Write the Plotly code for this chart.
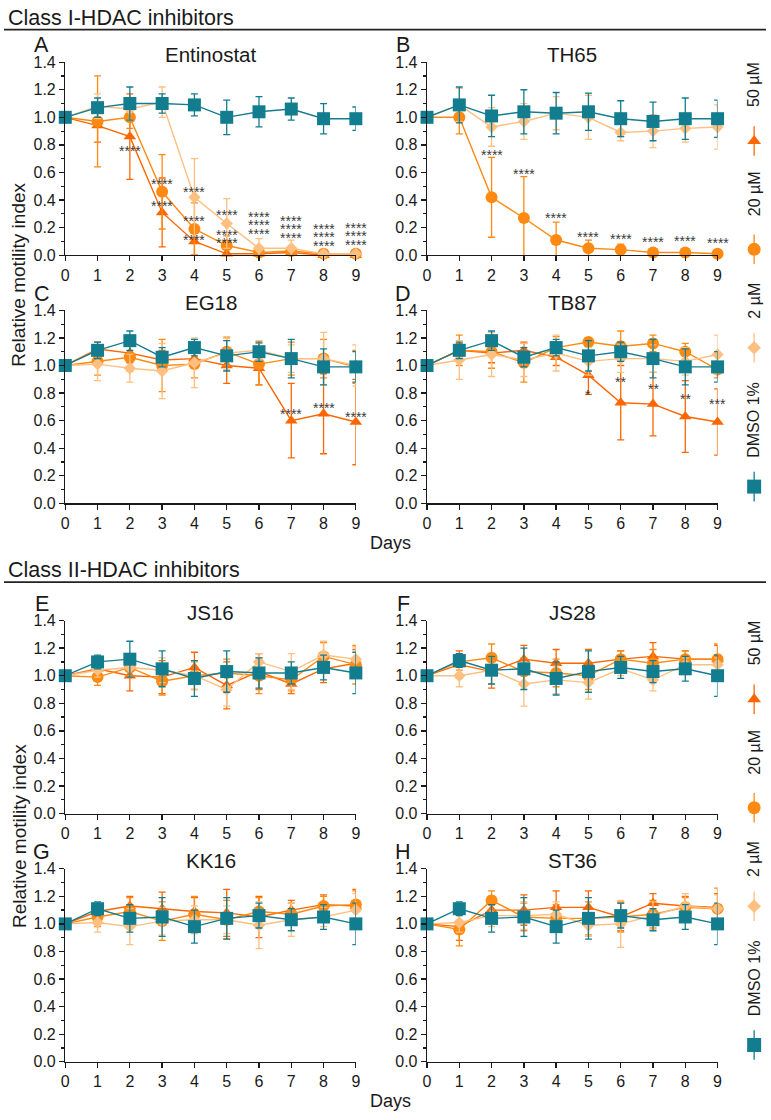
import plotly.graph_objects as go

# ---------------- data ----------------
DAYS = [0, 1, 2, 3, 4, 5, 6, 7, 8, 9]
Y_TICKS = [0.0, 0.2, 0.4, 0.6, 0.8, 1.0, 1.2, 1.4]
SERIES_NAMES = ["50 µM", "20 µM", "2 µM", "DMSO 1%"]
PANEL_TITLES = ["Entinostat", "TH65", "EG18", "TB87", "JS16", "JS28", "KK16", "ST36"]
PANEL_LETTERS = ["A", "B", "C", "D", "E", "F", "G", "H"]
SECTION_TITLES = ["Class I-HDAC inhibitors", "Class II-HDAC inhibitors"]

# A - Entinostat
A_dmso = [1.00, 1.07, 1.10, 1.10, 1.09, 1.00, 1.04, 1.06, 0.99, 0.99]
A_dmso_sd = [0, 0.07, 0.12, 0.07, 0.08, 0.125, 0.11, 0.08, 0.11, 0.085]
A_2 = [1.00, 1.08, 1.06, 1.11, 0.42, 0.23, 0.05, 0.05, 0.01, 0.01]
A_2_sd = [0, 0.09, 0.08, 0.11, 0.28, 0.18, 0.07, 0.06, 0.02, 0.02]
A_20 = [1.00, 0.97, 1.00, 0.46, 0.19, 0.07, 0.02, 0.03, 0.01, 0.01]
A_20_sd = [0, 0.33, 0.08, 0.27, 0.19, 0.07, 0.02, 0.03, 0.01, 0.01]
A_50 = [1.00, 0.94, 0.86, 0.31, 0.10, 0.01, 0.01, 0.02, 0.00, 0.00]
A_50_sd = [0, 0.12, 0.31, 0.25, 0.10, 0.01, 0.01, 0.02, 0, 0]
A_stars = [(2, 0.78, "****"), (3, 0.54, "****"), (3, 0.38, "****"),
           (4, 0.48, "****"), (4, 0.27, "****"), (4, 0.13, "****"),
           (5, 0.31, "****"), (5, 0.17, "****"), (5, 0.11, "****"),
           (6, 0.30, "****"), (6, 0.24, "****"), (6, 0.18, "****"),
           (7, 0.27, "****"), (7, 0.21, "****"), (7, 0.15, "****"),
           (8, 0.21, "****"), (8, 0.15, "****"), (8, 0.09, "****"),
           (9, 0.22, "****"), (9, 0.16, "****"), (9, 0.10, "****")]

# B - TH65
B_dmso = [1.00, 1.09, 1.01, 1.04, 1.03, 1.04, 0.99, 0.97, 0.99, 0.99]
B_dmso_sd = [0, 0.13, 0.15, 0.16, 0.15, 0.135, 0.13, 0.14, 0.15, 0.135]
B_2 = [1.00, 1.09, 0.93, 0.97, 1.03, 1.00, 0.89, 0.90, 0.92, 0.93]
B_2_sd = [0, 0.12, 0.14, 0.13, 0.12, 0.16, 0.06, 0.12, 0.10, 0.16]
B_20 = [1.00, 1.00, 0.42, 0.27, 0.11, 0.05, 0.04, 0.02, 0.02, 0.01]
B_20_sd = [0, 0.12, 0.29, 0.30, 0.13, 0.06, 0.04, 0.02, 0.02, 0.01]
B_50 = None
B_50_sd = None
B_stars = [(2, 0.75, "****"), (3, 0.61, "****"), (4, 0.29, "****"), (5, 0.155, "****"),
           (6, 0.14, "****"), (7, 0.115, "****"), (8, 0.126, "****"), (9, 0.107, "****")]

# C - EG18
C_dmso = [1.00, 1.11, 1.18, 1.06, 1.13, 1.07, 1.10, 1.05, 0.99, 0.99]
C_dmso_sd = [0, 0.06, 0.07, 0.07, 0.06, 0.11, 0.07, 0.14, 0.13, 0.11]
C_2 = [1.00, 1.01, 0.98, 0.96, 1.02, 1.09, 1.11, 1.05, 1.05, 1.00]
C_2_sd = [0, 0.12, 0.10, 0.20, 0.18, 0.12, 0.07, 0.10, 0.19, 0.15]
C_20 = [1.00, 1.03, 1.06, 1.00, 1.01, 1.10, 1.01, 1.05, 1.05, 0.99]
C_20_sd = [0, 0.10, 0.10, 0.19, 0.10, 0.10, 0.15, 0.12, 0.14, 0.12]
C_50 = [1.00, 1.12, 1.09, 1.04, 1.05, 1.00, 0.98, 0.60, 0.65, 0.59]
C_50_sd = [0, 0.05, 0.07, 0.07, 0.06, 0.13, 0.12, 0.27, 0.29, 0.31]
C_stars = [(7, 0.67, "****"), (8, 0.71, "****"), (9, 0.65, "****")]

# D - TB87
D_dmso = [1.00, 1.11, 1.18, 1.06, 1.13, 1.07, 1.10, 1.05, 0.99, 0.99]
D_dmso_sd = [0, 0.06, 0.07, 0.07, 0.06, 0.11, 0.07, 0.14, 0.13, 0.11]
D_2 = [1.00, 1.04, 1.08, 1.04, 1.09, 1.03, 1.05, 1.05, 1.03, 1.08]
D_2_sd = [0, 0.14, 0.16, 0.12, 0.13, 0.10, 0.10, 0.10, 0.10, 0.14]
D_20 = [1.00, 1.11, 1.10, 1.02, 1.13, 1.17, 1.14, 1.16, 1.10, 0.97]
D_20_sd = [0, 0.11, 0.12, 0.14, 0.08, 0.03, 0.11, 0.06, 0.06, 0.06]
D_50 = [1.00, 1.11, 1.09, 1.11, 1.06, 0.93, 0.73, 0.72, 0.63, 0.59]
D_50_sd = [0, 0.05, 0.07, 0.06, 0.06, 0.14, 0.27, 0.23, 0.26, 0.24]
D_stars = [(5, 0.81, "*"), (6, 0.90, "**"), (7, 0.85, "**"), (8, 0.78, "**"), (9, 0.74, "***")]

# E - JS16
E_dmso = [1.00, 1.10, 1.12, 1.05, 0.98, 1.03, 1.02, 1.02, 1.06, 1.02]
E_dmso_sd = [0, 0.05, 0.13, 0.13, 0.13, 0.15, 0.11, 0.08, 0.09, 0.15]
E_2 = [1.00, 1.04, 1.06, 1.04, 1.00, 0.90, 1.10, 1.03, 1.15, 1.12]
E_2_sd = [0, 0.05, 0.07, 0.09, 0.10, 0.12, 0.06, 0.13, 0.10, 0.09]
E_20 = [1.00, 0.99, 1.06, 0.96, 1.00, 1.02, 1.00, 0.97, 1.14, 1.08]
E_20_sd = [0, 0.06, 0.06, 0.10, 0.10, 0.10, 0.13, 0.08, 0.10, 0.14]
E_50 = [1.00, 1.05, 1.00, 0.99, 1.06, 0.93, 1.03, 0.94, 1.05, 1.09]
E_50_sd = [0, 0.05, 0.11, 0.12, 0.11, 0.17, 0.13, 0.07, 0.10, 0.10]
E_stars = []

# F - JS28
F_dmso = [1.00, 1.11, 1.04, 1.05, 0.98, 1.03, 1.06, 1.03, 1.05, 1.00]
F_dmso_sd = [0, 0.05, 0.10, 0.15, 0.12, 0.15, 0.08, 0.08, 0.09, 0.15]
F_2 = [1.00, 1.00, 1.04, 0.94, 0.97, 0.95, 1.05, 0.97, 1.08, 1.08]
F_2_sd = [0, 0.08, 0.10, 0.16, 0.10, 0.12, 0.05, 0.08, 0.05, 0.05]
F_20 = [1.00, 1.10, 1.13, 1.03, 1.02, 1.00, 1.12, 1.09, 1.12, 1.12]
F_20_sd = [0, 0.06, 0.10, 0.10, 0.10, 0.10, 0.06, 0.10, 0.06, 0.11]
F_50 = [1.00, 1.08, 1.03, 1.12, 1.09, 1.09, 1.12, 1.14, 1.12, 1.12]
F_50_sd = [0, 0.10, 0.12, 0.10, 0.10, 0.10, 0.06, 0.10, 0.06, 0.10]
F_stars = []

# G - KK16
G_dmso = [1.00, 1.11, 1.04, 1.05, 0.98, 1.04, 1.06, 1.03, 1.05, 1.00]
G_dmso_sd = [0, 0.05, 0.10, 0.14, 0.12, 0.15, 0.09, 0.08, 0.09, 0.15]
G_2 = [1.00, 1.01, 0.98, 1.02, 1.03, 1.03, 0.99, 1.03, 1.05, 1.10]
G_2_sd = [0, 0.07, 0.13, 0.10, 0.10, 0.10, 0.17, 0.12, 0.07, 0.12]
G_20 = [1.00, 1.05, 1.09, 1.02, 1.07, 1.03, 1.09, 1.07, 1.13, 1.14]
G_20_sd = [0, 0.07, 0.10, 0.14, 0.13, 0.14, 0.10, 0.08, 0.07, 0.10]
G_50 = [1.00, 1.09, 1.13, 1.11, 1.09, 1.08, 1.05, 1.10, 1.14, 1.13]
G_50_sd = [0, 0.05, 0.07, 0.12, 0.10, 0.17, 0.15, 0.07, 0.07, 0.12]
G_stars = []

# H - ST36
H_dmso = [1.00, 1.11, 1.04, 1.05, 0.98, 1.04, 1.06, 1.03, 1.05, 1.00]
H_dmso_sd = [0, 0.05, 0.10, 0.14, 0.12, 0.15, 0.09, 0.08, 0.09, 0.15]
H_2 = [1.00, 1.01, 1.06, 1.06, 1.07, 0.99, 1.00, 1.06, 1.13, 1.11]
H_2_sd = [0, 0.07, 0.08, 0.10, 0.09, 0.08, 0.17, 0.10, 0.09, 0.10]
H_20 = [1.00, 0.96, 1.17, 1.05, 1.04, 1.04, 1.05, 1.07, 1.12, 1.11]
H_20_sd = [0, 0.12, 0.07, 0.10, 0.10, 0.12, 0.11, 0.10, 0.07, 0.15]
H_50 = [1.00, 0.98, 1.10, 1.10, 1.12, 1.12, 1.05, 1.15, 1.13, 1.12]
H_50_sd = [0, 0.10, 0.10, 0.11, 0.12, 0.12, 0.10, 0.07, 0.07, 0.10]
H_stars = []

# ---------------- styling ----------------
W, H = 771, 1120
FONT = "Arial, 'Liberation Sans', Helvetica, sans-serif"
INK = "#1a1a1a"
STAR_INK = "#3a3a3a"
STAR_SIZE = 14
COLORS = {"50 µM": "#ff6600", "20 µM": "#ff8a12", "2 µM": "#ffbf80", "DMSO 1%": "#137d90"}
SYMBOLS = {"50 µM": "triangle-up", "20 µM": "circle", "2 µM": "diamond", "DMSO 1%": "square"}
SIZES = {"50 µM": 11, "20 µM": 12, "2 µM": 9.5, "DMSO 1%": 13}


def px(x):
    return x / W


def py(y):
    return 1 - y / H


panels = [
    (A_50, A_50_sd, A_20, A_20_sd, A_2, A_2_sd, A_dmso, A_dmso_sd, A_stars),
    (B_50, B_50_sd, B_20, B_20_sd, B_2, B_2_sd, B_dmso, B_dmso_sd, B_stars),
    (C_50, C_50_sd, C_20, C_20_sd, C_2, C_2_sd, C_dmso, C_dmso_sd, C_stars),
    (D_50, D_50_sd, D_20, D_20_sd, D_2, D_2_sd, D_dmso, D_dmso_sd, D_stars),
    (E_50, E_50_sd, E_20, E_20_sd, E_2, E_2_sd, E_dmso, E_dmso_sd, E_stars),
    (F_50, F_50_sd, F_20, F_20_sd, F_2, F_2_sd, F_dmso, F_dmso_sd, F_stars),
    (G_50, G_50_sd, G_20, G_20_sd, G_2, G_2_sd, G_dmso, G_dmso_sd, G_stars),
    (H_50, H_50_sd, H_20, H_20_sd, H_2, H_2_sd, H_dmso, H_dmso_sd, H_stars),
]

# pixel layout of each panel: (x_left, x_right, y_top(1.4), y_bottom(0))
X_COLS = [(62, 356), (428, 722)]
Y_ROWS = [(55, 251), (307, 503), (622, 818), (874, 1070)]
PX_PER_UNIT = (251 - 55) / 1.4


def star_annotations(stars, xa, ya):
    """Group closely stacked significance marks into one multi-line text."""
    out = []
    by_day = {}
    for d, yv, t in stars:
        by_day.setdefault(d, []).append((yv, t))
    for d, lst in by_day.items():
        lst.sort(key=lambda p: -p[0])
        clusters = []
        for yv, t in lst:
            if clusters and clusters[-1][-1][0] - yv < 0.1:
                clusters[-1].append((yv, t))
            else:
                clusters.append([(yv, t)])
        for cl in clusters:
            ymid = (cl[0][0] + cl[-1][0]) / 2
            if len(cl) == 1:
                text = cl[0][1]
                base = STAR_SIZE
            else:
                step_px = (cl[0][0] - cl[-1][0]) / (len(cl) - 1) * PX_PER_UNIT
                base = step_px / 1.3
                text = "<br>".join(f"<span style='font-size:{STAR_SIZE}px'>{t}</span>" for _, t in cl)
            out.append(dict(
                x=d, y=ymid, xref=xa, yref=ya, text=text, showarrow=False,
                font=dict(family=FONT, size=base, color=STAR_INK),
                xanchor="center", yanchor="middle", yshift=-3,
            ))
    return out


fig = go.Figure()
annotations = []
layout_axes = {}

for i, pdata in enumerate(panels):
    col = i % 2
    row = i // 2
    xl, xr = X_COLS[col]
    yt, yb = Y_ROWS[row]
    n = i + 1
    xa = "x" if n == 1 else f"x{n}"
    ya = "y" if n == 1 else f"y{n}"
    xkey = "xaxis" if n == 1 else f"xaxis{n}"
    ykey = "yaxis" if n == 1 else f"yaxis{n}"
    layout_axes[xkey] = dict(
        domain=[px(xl), px(xr)], range=[0, 9], anchor=ya,
        showline=True, linecolor=INK, linewidth=1.3, mirror=False,
        ticks="outside", ticklen=5, tickwidth=1.3, tickcolor=INK,
        tickvals=DAYS, ticktext=[str(d) for d in DAYS],
        tickfont=dict(family=FONT, size=16, color=INK),
        showgrid=False, zeroline=False, fixedrange=True,
    )
    layout_axes[ykey] = dict(
        domain=[py(yb), py(yt)], range=[0, 1.4], anchor=xa,
        showline=True, linecolor=INK, linewidth=1.3,
        ticks="outside", ticklen=5, tickwidth=1.3, tickcolor=INK,
        tickvals=Y_TICKS, ticktext=[f"{v:.1f}" for v in Y_TICKS],
        minor=dict(tickvals=[0.1, 0.3, 0.5, 0.7, 0.9, 1.1, 1.3], ticks="outside",
                   ticklen=3, tickwidth=1.2, tickcolor=INK, showgrid=False),
        tickfont=dict(family=FONT, size=16, color=INK),
        showgrid=False, zeroline=False, fixedrange=True,
    )
    vals = [(SERIES_NAMES[0], pdata[0], pdata[1]),
            (SERIES_NAMES[1], pdata[2], pdata[3]),
            (SERIES_NAMES[2], pdata[4], pdata[5]),
            (SERIES_NAMES[3], pdata[6], pdata[7])]
    for name, yv, sd in vals:
        if yv is None:
            continue
        c = COLORS[name]
        fig.add_trace(go.Scatter(
            x=DAYS, y=yv, xaxis=xa, yaxis=ya, name=name, mode="lines+markers",
            line=dict(color=c, width=1.4),
            marker=dict(symbol=SYMBOLS[name], size=SIZES[name], color=c, line=dict(width=0)),
            error_y=dict(type="data", array=sd, visible=True, color=c, thickness=1.3, width=3.5),
            cliponaxis=False, showlegend=False, hoverinfo="skip",
        ))
    annotations.extend(star_annotations(pdata[8], xa, ya))
    # panel title + letter
    annotations.append(dict(
        x=px((xl + xr) / 2), y=py(yt - 8), xref="paper", yref="paper",
        text=PANEL_TITLES[i], showarrow=False, xanchor="center", yanchor="middle",
        font=dict(family=FONT, size=20.5, color=INK),
    ))
    annotations.append(dict(
        x=px(xl - 24), y=py(yt - 17), xref="paper", yref="paper",
        text=PANEL_LETTERS[i], showarrow=False, xanchor="center", yanchor="middle",
        font=dict(family=FONT, size=21.5, color=INK),
    ))

# Section headers, axis titles
SECTION_Y = [(10, 22), (571, 583)]
for s, (ty, ly) in enumerate(SECTION_Y):
    annotations.append(dict(
        x=px(2), y=py(ty), xref="paper", yref="paper", text=SECTION_TITLES[s],
        showarrow=False, xanchor="left", yanchor="middle",
        font=dict(family=FONT, size=21.5, color=INK),
    ))
    annotations.append(dict(
        x=px(15), y=py(271 + s * 570), xref="paper", yref="paper",
        text="Relative motility index", textangle=-90, showarrow=False,
        xanchor="center", yanchor="middle", font=dict(family=FONT, size=19, color=INK),
    ))
    annotations.append(dict(
        x=px(391), y=py(543 + s * 567), xref="paper", yref="paper",
        text="Days", showarrow=False, xanchor="center", yanchor="middle",
        font=dict(family=FONT, size=18, color=INK),
    ))

shapes = [dict(type="line", xref="paper", yref="paper", x0=0, x1=1,
               y0=py(ly), y1=py(ly), line=dict(color="#222222", width=1.6))
          for (_, ly) in SECTION_Y]

# Legend (vertical, rotated labels) drawn on an invisible pixel axis at the right
LEG_MARK_Y = [[135, 245, 345, 486], [702, 812, 912, 1053]]
LEG_TEXT_Y = [[78, 189, 297, 418], [645, 756, 864, 985]]
LEG_X = 759
layout_axes["xaxis9"] = dict(domain=[px(740), 1], range=[740, 771], visible=False,
                             anchor="y9", fixedrange=True)
layout_axes["yaxis9"] = dict(domain=[0, 1], range=[H, 0], visible=False,
                             anchor="x9", fixedrange=True)
for s in range(2):
    for k, name in enumerate(SERIES_NAMES):
        c = COLORS[name]
        fig.add_trace(go.Scatter(
            x=[LEG_X], y=[LEG_MARK_Y[s][k]], xaxis="x9", yaxis="y9", mode="markers",
            marker=dict(symbol=SYMBOLS[name], size=SIZES[name] + 1, color=c),
            error_y=dict(type="data", array=[15], visible=True, color=c, thickness=1.3, width=0),
            cliponaxis=False, showlegend=False, hoverinfo="skip",
        ))
        annotations.append(dict(
            x=px(LEG_X), y=py(LEG_TEXT_Y[s][k]), xref="paper", yref="paper",
            text=name, textangle=-90, showarrow=False, xanchor="center", yanchor="middle",
            font=dict(family=FONT, size=16, color=INK),
        ))

fig.update_layout(
    width=W, height=H, margin=dict(l=0, r=0, t=0, b=0),
    paper_bgcolor="white", plot_bgcolor="rgba(0,0,0,0)",
    showlegend=False, annotations=annotations, shapes=shapes,
    font=dict(family=FONT, color=INK),
    **layout_axes,
)

fig.write_html(
    "out.html",
    config={"displayModeBar": False, "staticPlot": True},
    post_script="document.body.style.margin='0';document.body.style.overflow='hidden';",
)
